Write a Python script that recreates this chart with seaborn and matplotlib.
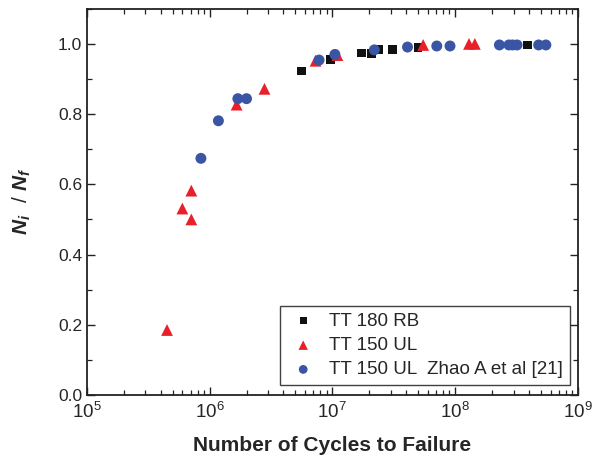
import matplotlib
matplotlib.use("Agg")
import matplotlib.pyplot as plt
import seaborn as sns
import pandas as pd
from matplotlib.ticker import LogLocator, MultipleLocator

# Data
rb180_cycles = [5.6e6, 9.6e6, 1.74e7, 2.1e7, 2.4e7, 3.1e7, 5.0e7, 3.9e8]
rb180_ratio = [0.923, 0.955, 0.974, 0.972, 0.983, 0.983, 0.989, 0.997]

ul150_cycles = [4.5e5, 6.0e5, 7.1e5, 7.1e5, 1.66e6, 2.8e6, 7.3e6, 1.1e7, 5.5e7, 1.3e8, 1.45e8]
ul150_ratio = [0.185, 0.531, 0.582, 0.500, 0.827, 0.872, 0.952, 0.968, 0.997, 1.0, 1.0]

zhao_cycles = [8.5e5, 1.18e6, 1.7e6, 2.0e6, 7.8e6, 1.05e7, 2.2e7, 4.1e7, 7.1e7, 9.1e7,
               2.3e8, 2.75e8, 2.95e8, 3.2e8, 4.8e8, 5.5e8]
zhao_ratio = [0.674, 0.781, 0.844, 0.844, 0.954, 0.970, 0.983, 0.991, 0.994, 0.994,
              0.997, 0.997, 0.997, 0.997, 0.997, 0.997]

labels = ["TT 180 RB", "TT 150 UL", "TT 150 UL  Zhao A et al [21]"]
xlabel = "Number of Cycles to Failure"
x_ticks = [1e5, 1e6, 1e7, 1e8, 1e9]
x_ticklabels = [r"$\mathdefault{10^{5}}$", r"$\mathdefault{10^{6}}$", r"$\mathdefault{10^{7}}$",
                r"$\mathdefault{10^{8}}$", r"$\mathdefault{10^{9}}$"]

sns.set_theme(style="ticks")
plt.rcParams["font.family"] = ["Liberation Sans", "DejaVu Sans"]
plt.rcParams["mathtext.fontset"] = "custom"
plt.rcParams["mathtext.rm"] = "Liberation Sans"
plt.rcParams["mathtext.it"] = "Liberation Sans:italic:bold"
plt.rcParams["mathtext.bf"] = "Liberation Sans:bold"

fig = plt.figure(figsize=(5.95, 4.63), dpi=100)
ax = fig.add_axes([0.146, 0.147, 0.825, 0.834])

series = [
    (rb180_cycles, rb180_ratio, labels[0], "s", "#111111", 40),
    (ul150_cycles, ul150_ratio, labels[1], "^", "#e8202a", 72),
    (zhao_cycles, zhao_ratio, labels[2], "o", "#3a55a4", 62),
]
for xs, ys, lab, mk, col, s in series:
    df = pd.DataFrame({"x": xs, "y": ys})
    sns.scatterplot(data=df, x="x", y="y", ax=ax, marker=mk, color=col, s=s,
                    edgecolor="none", linewidth=0, label=lab)

ax.set_xscale("log")
ax.set_xlim(1e5, 1e9)
ax.set_ylim(0.0, 1.1)
ax.set_xticks(x_ticks)
ax.set_xticklabels(x_ticklabels)
ax.xaxis.set_minor_locator(LogLocator(base=10, subs=range(2, 10), numticks=100))
ax.yaxis.set_minor_locator(MultipleLocator(0.1))
ax.set_yticks([0.0, 0.2, 0.4, 0.6, 0.8, 1.0])
ax.set_yticklabels(["0.0", "0.2", "0.4", "0.6", "0.8", "1.0"])

ax.tick_params(which="both", direction="in", top=True, right=True, color="#222222")
ax.tick_params(axis="y", labelsize=12.5)
ax.tick_params(axis="x", labelsize=13.5, pad=5)
ax.tick_params(which="major", length=6, width=1)
ax.tick_params(which="minor", length=3.5, width=0.9)
for sp in ax.spines.values():
    sp.set_linewidth(1.3)
    sp.set_color("#222222")

ax.set_xlabel(xlabel, fontsize=15, fontweight="bold", labelpad=10)
ax.set_ylabel(r"$N_i\ \ /\ N_f$", fontsize=15, labelpad=18)

leg = ax.legend(loc="lower right", bbox_to_anchor=(0.984, 0.026), borderaxespad=0,
                fontsize=13.5, frameon=True, fancybox=False, handletextpad=0.5,
                borderpad=0.35, labelspacing=0.38, handlelength=1.8, markerscale=0.8)
leg.get_frame().set_edgecolor("#111111")
leg.get_frame().set_linewidth(1.0)

fig.savefig("out.png", dpi=100)
